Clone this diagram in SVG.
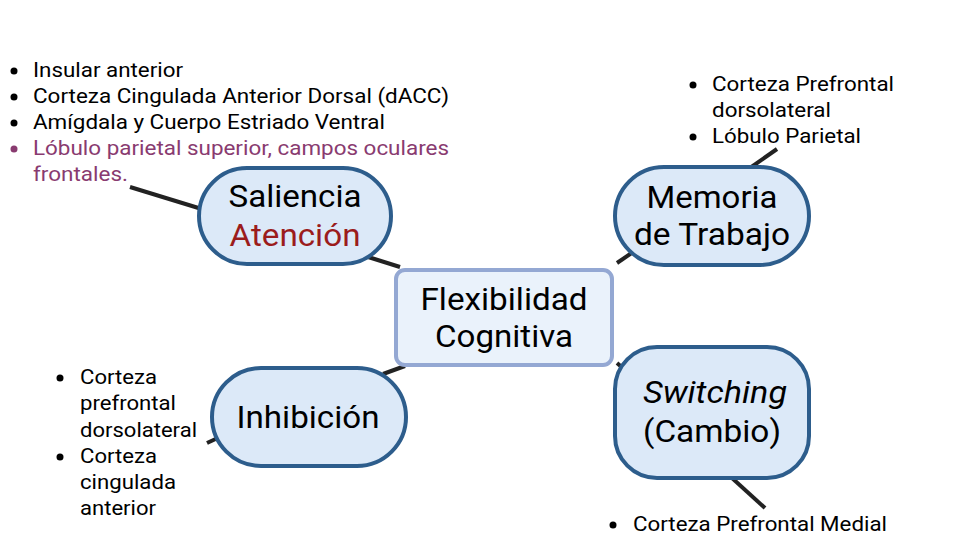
<svg xmlns="http://www.w3.org/2000/svg" width="960" height="540" viewBox="0 0 960 540">
<style>
text{font-family:Roboto,"Liberation Sans",sans-serif;fill:#000}
.n{fill:#dce9f8;stroke:#2d5d8c;stroke-width:4}
.c{fill:#eaf2fb;stroke:#94a8d3;stroke-width:4}
.big{font-size:31px;text-anchor:middle}
.li{font-size:21px}
.ln{stroke:#222;stroke-width:4;fill:none}
.b{fill:#000}
</style>
<rect width="960" height="540" fill="#fff"/>
<g id="connectors">
<line class="ln" x1="130" y1="187" x2="205" y2="210"/>
<line class="ln" x1="365" y1="256" x2="400" y2="267"/>
<line class="ln" x1="617" y1="263" x2="636" y2="250"/>
<line class="ln" x1="750" y1="168" x2="777" y2="149"/>
<line class="ln" x1="383" y1="374" x2="405" y2="366"/>
<line class="ln" x1="207" y1="443" x2="222" y2="436"/>
<line class="ln" x1="617" y1="363" x2="626" y2="371"/>
<line class="ln" x1="732" y1="478" x2="765" y2="508"/>
</g>
<g id="saliencia">
<rect class="n" x="199" y="168" width="192" height="96" rx="48"/>
<text class="big" x="295" y="207" textLength="133" lengthAdjust="spacingAndGlyphs">Saliencia</text>
<text class="big" x="295" y="246" textLength="131" lengthAdjust="spacingAndGlyphs" style="fill:#9b1c1c">Atención</text>
</g>
<g id="memoria">
<rect class="n" x="615" y="167" width="194" height="98" rx="49"/>
<text class="big" x="712" y="208" textLength="131" lengthAdjust="spacingAndGlyphs">Memoria</text>
<text class="big" x="712" y="245" textLength="156" lengthAdjust="spacingAndGlyphs">de Trabajo</text>
</g>
<g id="flexibilidad">
<rect class="c" x="396" y="270" width="216" height="95" rx="9"/>
<text class="big" x="504" y="310" textLength="167" lengthAdjust="spacingAndGlyphs">Flexibilidad</text>
<text class="big" x="504" y="347" textLength="138" lengthAdjust="spacingAndGlyphs">Cognitiva</text>
</g>
<g id="inhibicion">
<rect class="n" x="212" y="368" width="194" height="98" rx="49"/>
<text class="big" x="308" y="428" textLength="143" lengthAdjust="spacingAndGlyphs">Inhibición</text>
</g>
<g id="switching">
<rect class="n" x="615" y="347" width="194" height="131" rx="42"/>
<text class="big" x="715" y="403" font-style="italic" textLength="144" lengthAdjust="spacingAndGlyphs">Switching</text>
<text class="big" x="712" y="442" textLength="138" lengthAdjust="spacingAndGlyphs">(Cambio)</text>
</g>
<g id="list-saliencia">
<circle class="b" cx="14" cy="71" r="3.5"/>
<circle class="b" cx="14" cy="97" r="3.5"/>
<circle class="b" cx="14" cy="123" r="3.5"/>
<circle cx="14" cy="149" r="3.5" fill="#893b70"/>
<text class="li" x="33" y="77" textLength="150" lengthAdjust="spacingAndGlyphs">Insular anterior</text>
<text class="li" x="33" y="103" textLength="416" lengthAdjust="spacingAndGlyphs">Corteza Cingulada Anterior Dorsal (dACC)</text>
<text class="li" x="33" y="129" textLength="352" lengthAdjust="spacingAndGlyphs">Amígdala y Cuerpo Estriado Ventral</text>
<text class="li" x="33" y="155" textLength="416" lengthAdjust="spacingAndGlyphs" style="fill:#893b70">Lóbulo parietal superior, campos oculares</text>
<text class="li" x="33" y="181" textLength="95" lengthAdjust="spacingAndGlyphs" style="fill:#893b70">frontales.</text>
</g>
<g id="list-memoria">
<circle class="b" cx="693" cy="85" r="3.5"/>
<circle class="b" cx="693" cy="137" r="3.5"/>
<text class="li" x="712" y="91" textLength="182" lengthAdjust="spacingAndGlyphs">Corteza Prefrontal</text>
<text class="li" x="712" y="117" textLength="119" lengthAdjust="spacingAndGlyphs">dorsolateral</text>
<text class="li" x="712" y="143" textLength="149" lengthAdjust="spacingAndGlyphs">Lóbulo Parietal</text>
</g>
<g id="list-inhibicion">
<circle class="b" cx="60" cy="378" r="3.5"/>
<circle class="b" cx="60" cy="457" r="3.5"/>
<text class="li" x="80" y="384" textLength="77" lengthAdjust="spacingAndGlyphs">Corteza</text>
<text class="li" x="80" y="410" textLength="96" lengthAdjust="spacingAndGlyphs">prefrontal</text>
<text class="li" x="80" y="437" textLength="117" lengthAdjust="spacingAndGlyphs">dorsolateral</text>
<text class="li" x="80" y="463" textLength="77" lengthAdjust="spacingAndGlyphs">Corteza</text>
<text class="li" x="80" y="489" textLength="96" lengthAdjust="spacingAndGlyphs">cingulada</text>
<text class="li" x="80" y="515" textLength="76" lengthAdjust="spacingAndGlyphs">anterior</text>
</g>
<g id="list-switching">
<circle class="b" cx="613" cy="525" r="3.5"/>
<text class="li" x="633" y="531" textLength="254" lengthAdjust="spacingAndGlyphs">Corteza Prefrontal Medial</text>
</g>
</svg>
